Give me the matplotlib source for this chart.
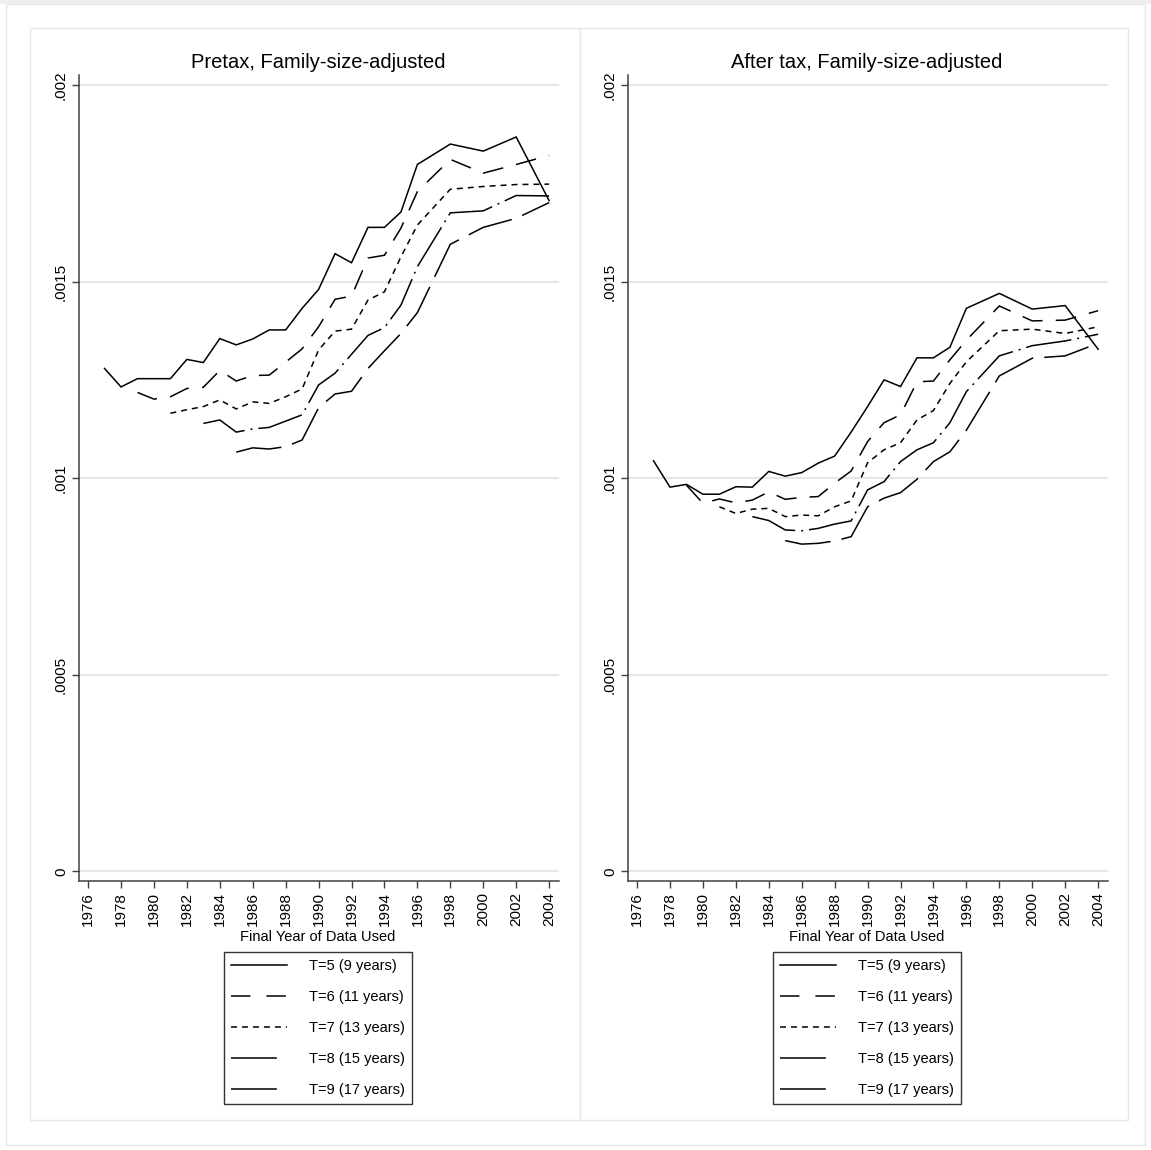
import matplotlib
matplotlib.use("Agg")
import matplotlib.pyplot as plt
from matplotlib.patches import Rectangle
from matplotlib.lines import Line2D

plt.rcParams['font.family'] = ['Liberation Sans', 'DejaVu Sans']
plt.rcParams['lines.scale_dashes'] = False

# Final year of data used: annual through 1996, biennial afterwards
years_all = list(range(1977, 1997)) + [1998, 2000, 2002, 2004]
start_years = [1977, 1979, 1981, 1983, 1985]
series_labels = ["T=5 (9 years)", "T=6 (11 years)", "T=7 (13 years)",
                 "T=8 (15 years)", "T=9 (17 years)"]

# Pretax, family-size-adjusted (values in units of 1e-3)
pretax_t5 = [1.280, 1.233, 1.254, 1.254, 1.254, 1.303, 1.295, 1.356, 1.340, 1.355,
             1.378, 1.378, 1.433, 1.481, 1.572, 1.549, 1.639, 1.639, 1.678, 1.799,
             1.851, 1.833, 1.869, 1.707]
pretax_t6 = [1.219, 1.202, 1.208, 1.229, 1.232, 1.275, 1.248, 1.262, 1.263, 1.296,
             1.330, 1.386, 1.456, 1.464, 1.561, 1.568, 1.637, 1.730, 1.812, 1.777,
             1.799, 1.822]
pretax_t7 = [1.166, 1.175, 1.183, 1.200, 1.177, 1.195, 1.191, 1.208, 1.228, 1.327,
             1.375, 1.380, 1.454, 1.475, 1.564, 1.645, 1.736, 1.743, 1.748, 1.749]
pretax_t8 = [1.140, 1.149, 1.118, 1.126, 1.130, 1.146, 1.162, 1.238, 1.268, 1.316,
             1.364, 1.384, 1.441, 1.539, 1.676, 1.681, 1.720, 1.719]
pretax_t9 = [1.067, 1.078, 1.075, 1.081, 1.098, 1.180, 1.215, 1.222, 1.280, 1.325,
             1.369, 1.422, 1.596, 1.639, 1.662, 1.702]

# After tax, family-size-adjusted (values in units of 1e-3)
aftertax_t5 = [1.045, 0.978, 0.985, 0.960, 0.960, 0.979, 0.978, 1.018, 1.006, 1.015,
               1.039, 1.057, 1.118, 1.183, 1.251, 1.234, 1.307, 1.307, 1.334, 1.433,
               1.471, 1.431, 1.440, 1.329]
aftertax_t6 = [0.983, 0.937, 0.948, 0.938, 0.945, 0.966, 0.947, 0.952, 0.954, 0.988,
               1.019, 1.094, 1.142, 1.162, 1.246, 1.248, 1.302, 1.352, 1.439, 1.401,
               1.403, 1.427]
aftertax_t7 = [0.928, 0.911, 0.922, 0.924, 0.903, 0.907, 0.905, 0.928, 0.943, 1.040,
               1.073, 1.091, 1.149, 1.173, 1.242, 1.297, 1.376, 1.380, 1.369, 1.386]
aftertax_t8 = [0.903, 0.893, 0.869, 0.867, 0.873, 0.884, 0.892, 0.971, 0.992, 1.043,
               1.073, 1.091, 1.142, 1.221, 1.312, 1.338, 1.350, 1.367]
aftertax_t9 = [0.842, 0.833, 0.835, 0.841, 0.852, 0.928, 0.950, 0.964, 0.998, 1.043,
               1.068, 1.123, 1.261, 1.306, 1.312, 1.344]

panel_titles = ["Pretax, Family-size-adjusted", "After tax, Family-size-adjusted"]
x_title = "Final Year of Data Used"
x_ticks = list(range(1976, 2005, 2))
y_ticks = [0, 0.0005, 0.001, 0.0015, 0.002]
y_ticklabels = ["0", ".0005", ".001", ".0015", ".002"]

# Line patterns (on/off lengths in points)
dash_styles = [None, (15, 9.5), (4.3, 3.6), (33, 4.3, 1.4, 4.3), (33, 8)]
# Legend keys: the long patterns only show their first stroke in the key
key_styles = [None, (14, 11.5), (4.3, 3.6), (33, 30), (33, 30)]

W, H = 1151, 1150
fig = plt.figure(figsize=(W / 100, H / 100), dpi=100)
fig.patch.set_facecolor("white")

def fx(px):
    return px / W

def fy(py):
    return 1 - py / H

# Graph region frames
fig.add_artist(Rectangle((0, fy(4)), 1, 4 / H, transform=fig.transFigure,
                         facecolor="#eeeeee", edgecolor="none"))
fig.add_artist(Rectangle((fx(6), fy(1145)), fx(1139), (1141) / H, transform=fig.transFigure,
                         fill=False, edgecolor="#e6e6e6", lw=1.0))
for x0, x1 in [(30, 580), (580, 1128)]:
    fig.add_artist(Rectangle((fx(x0), fy(1120)), fx(x1 - x0), (1120 - 28) / H,
                             transform=fig.transFigure, fill=False,
                             edgecolor="#e6e6e6", lw=1.0))

panels = [
    (79, [pretax_t5, pretax_t6, pretax_t7, pretax_t8, pretax_t9]),
    (628, [aftertax_t5, aftertax_t6, aftertax_t7, aftertax_t8, aftertax_t9]),
]

axis_color = "#404040"
for i, (left_px, series) in enumerate(panels):
    ax = fig.add_axes([fx(left_px), fy(881), fx(480), (881 - 75) / H])
    ax.set_facecolor("white")
    for s, (vals, start, lab, dash) in enumerate(zip(series, start_years, series_labels, dash_styles)):
        yrs = [y for y in years_all if y >= start]
        yv = [v * 1e-3 for v in vals]
        line, = ax.plot(yrs, yv, color="black", lw=1.1, label=lab,
                        solid_joinstyle="miter", dash_joinstyle="miter")
        if dash is not None:
            line.set_dashes(dash)
    ax.set_xlim(1975.45, 2004.6)
    ax.set_ylim(-0.0000242, 0.0020267)
    ax.set_xticks(x_ticks)
    ax.set_xticklabels([str(t) for t in x_ticks], rotation=90, fontsize=11)
    ax.set_yticks(y_ticks)
    ax.set_yticklabels(y_ticklabels, rotation=90, va="center", fontsize=11)
    ax.tick_params(axis="both", length=5, width=1, color=axis_color, pad=3)
    ax.grid(axis="y", color="#e6e6e6", lw=1.5)
    ax.grid(axis="x", visible=False)
    ax.set_axisbelow(True)
    for sp in ["top", "right"]:
        ax.spines[sp].set_visible(False)
    for sp in ["left", "bottom"]:
        ax.spines[sp].set_color(axis_color)
        ax.spines[sp].set_linewidth(1.1)

    cx = left_px + 239
    fig.text(fx(cx), fy(62), panel_titles[i], ha="center", va="center", fontsize=14.5)
    fig.text(fx(cx), fy(937), x_title, ha="center", va="center", fontsize=10.5)

    keys = []
    for ks in key_styles:
        k = Line2D([], [], color="black", lw=1.1)
        if ks is not None:
            k.set_dashes(ks)
        keys.append(k)
    leg = ax.legend(keys, series_labels, loc="upper center",
                    bbox_to_anchor=(fx(cx), fy(952)),
                    bbox_transform=fig.transFigure, ncol=1, fontsize=10.5,
                    frameon=True, fancybox=False, borderaxespad=0,
                    handlelength=3.85, handletextpad=1.5, labelspacing=1.16,
                    borderpad=0.5)
    frame = leg.get_frame()
    frame.set_edgecolor("#333333")
    frame.set_linewidth(1.0)
    frame.set_facecolor("white")
    frame.set_alpha(1)

fig.savefig("out.png", dpi=100, facecolor="white")
